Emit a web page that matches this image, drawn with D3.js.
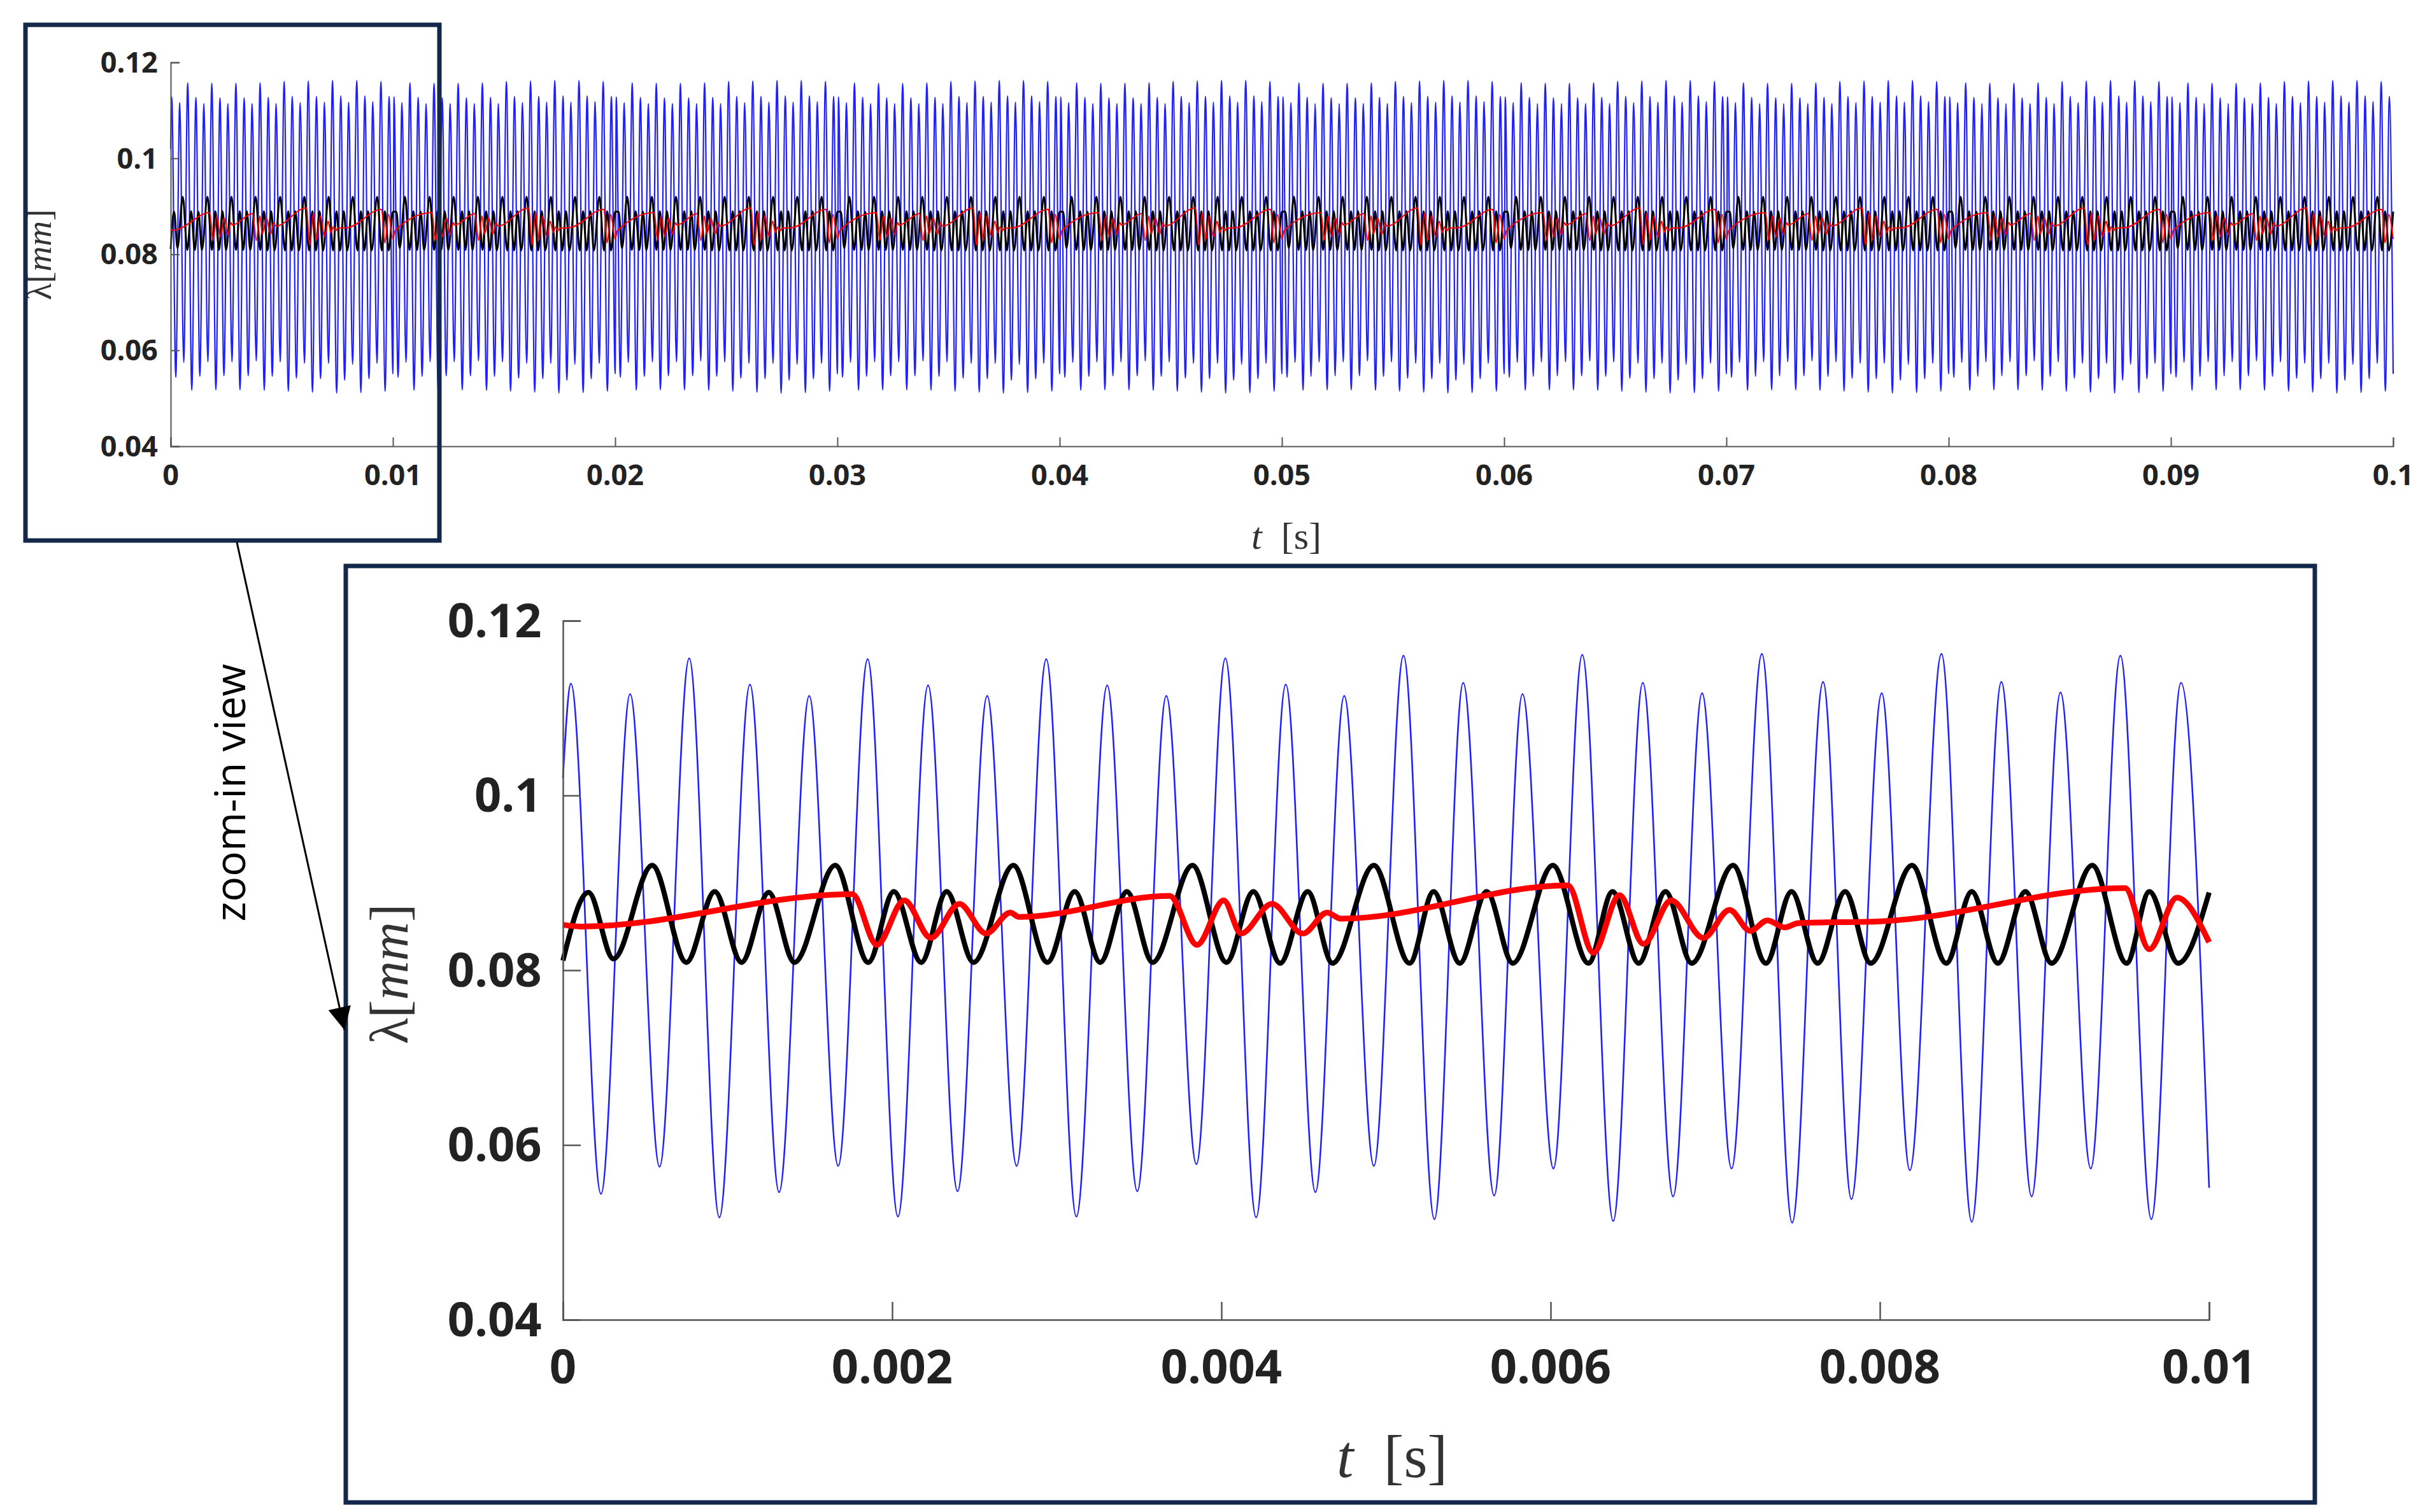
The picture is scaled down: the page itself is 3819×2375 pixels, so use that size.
<!DOCTYPE html>
<html>
<head>
<meta charset="utf-8">
<script src="https://cdn.jsdelivr.net/npm/d3@7"></script>
<style>
body { margin: 0; background: #fff; }
text { font-family: "Open Sans", Lato, sans-serif; }
text.serif { font-family: "Liberation Serif", "DejaVu Serif", serif; }
</style>
</head>
<body>
<script>
var blueT = [0,.0000484,.000231,.000408,.000587,.000767,.000950,.001136,.001313,.001496,.001672,.001851,.002035,.002218,.002397,.002577,.002756,.002936,.003119,.003306,.003489,.003665,.003848,.004024,
  .004211,.004391,.004571,.004746,.004926,.005106,.005294,.005469,.005657,.005829,.006017,.006192,.006380,.006560,.006744,.006920,.007099,.007283,.007467,.007655,.007827,.008011,.008182,.008374,.008558,.008738,.008922,.009097,.009281,.009461,.009649,.009829,.010];
var blueV = [.1020,.1128,.0544,.1116,.0575,.1157,.0517,.1127,.0546,.1114,.0576,.1156,.0518,.1126,.0547,.1114,.0576,.1156,.0518,.1126,.0547,.1114,.0578,.1157,
  .0517,.1127,.0546,.1114,.0576,.1160,.0515,.1129,.0542,.1116,.0573,.1161,.0513,.1129,.0541,.1117,.0573,.1162,.0511,.1130,.0538,.1117,.0571,.1162,.0512,.1130,.0541,.1118,.0573,.1160,.0515,.1129,.0551];
var blackT = [0,.000155,.000307,.000542,.000750,.000922,.001085,.001250,.001406,.001654,.001855,.002010,.002176,.002331,.002494,.002736,.002943,.003109,.003264,.003426,.003582,.003824,.004031,
  .004194,.004357,.004524,.004675,.004926,.005143,.005289,.005448,.005611,.005770,.006013,.006230,.006376,.006535,.006698,.006857,.007108,.007308,.007463,.007622,.007789,.007944,.008195,.008404,.008558,.008717,.008884,.009043,.009290,.009499,.009637,.009812,.010];
var blackV = [.0811,.0889,.0813,.0920,.0809,.0890,.0809,.0889,.0809,.0920,.0809,.0890,.0809,.0890,.0809,.0920,.0809,.0890,.0809,.0890,.0809,.0920,.0809,
  .0890,.0808,.0890,.0808,.0920,.0808,.0890,.0808,.0890,.0808,.0920,.0808,.0890,.0808,.0890,.0808,.0920,.0808,.0890,.0808,.0890,.0808,.0920,.0808,.0890,.0808,.0890,.0808,.0920,.0808,.0890,.0808,.0889];
var redT = [0,.000110,.001758,.001907,.002073,.002235,.002408,.002570,.002718,.002770,.003686,.003852,.004014,.004119,.004307,.004495,.004642,.004725,.006105,.006259,.006418,.006564,.006732,.006928,.007087,.007212,.007317,.007421,.007505,.008006,.009490,.009637,.009804,.010];
var redV = [.0852,.0850,.0887,.0829,.0880,.0837,.0876,.0842,.0866,.0861,.0885,.0829,.0880,.0842,.0876,.0842,.0866,.0859,.0897,.0820,.0886,.0830,.0880,.0837,.0869,.0845,.0857,.0849,.0854,.0856,.0894,.0824,.0883,.0832];

var yTicks = [0.04, 0.06, 0.08, 0.1, 0.12];
var xTicksTop = [0,0.01,0.02,0.03,0.04,0.05,0.06,0.07,0.08,0.09,0.1];
var xTicksZoom = [0,0.002,0.004,0.006,0.008,0.01];
var repeats = 10; // the full record repeats the 0.01 s window

var W = 3819, H = 2375;
var svg = d3.select("body").append("svg").attr("width", W).attr("height", H);

function pts(T, V, n) {
  var out = [];
  for (var k = 0; k < n; k++)
    T.forEach(function(t, i){ if (k > 0 && i == 0) return; out.push([t + k*0.01, V[i]]); });
  return out;
}

function panel(cfg) {
  var x = d3.scaleLinear().domain(cfg.xd).range([cfg.x0, cfg.x1]);
  var y = d3.scaleLinear().domain([0.04, 0.12]).range([cfg.y0, cfg.y1]);
  var g = svg.append("g");
  var line = d3.line().x(function(d){return x(d[0]);}).y(function(d){return y(d[1]);}).curve(d3.curveMonotoneX);
  var series = [[blueT, blueV, "#1f1fff", cfg.w[0]], [blackT, blackV, "#000", cfg.w[1]], [redT, redV, "#ff0000", cfg.w[2]]];
  series.forEach(function(s){
    g.append("path").datum(pts(s[0], s[1], cfg.n)).attr("d", line)
      .attr("fill", "none").attr("stroke", s[2]).attr("stroke-width", s[3]).attr("stroke-linejoin", "round");
  });
  var ax = g.append("g").attr("transform", "translate(0," + cfg.y0 + ")")
    .call(d3.axisTop(x).tickValues(cfg.xt).tickSize(cfg.tick).tickFormat(d3.format("~g")));
  ax.selectAll("text").remove();
  var ay = g.append("g").attr("transform", "translate(" + cfg.x0 + ",0)")
    .call(d3.axisRight(y).tickValues(yTicks).tickSize(cfg.tick).tickFormat(""));
  [ax, ay].forEach(function(a){
    a.select(".domain").attr("stroke", "#555").attr("stroke-width", cfg.aw);
    a.selectAll(".tick line").attr("stroke", "#555").attr("stroke-width", cfg.aw);
  });
  g.selectAll(".xl").data(cfg.xt).enter().append("text")
    .attr("x", function(d){return x(d);}).attr("y", cfg.y0 + cfg.fs*1.35)
    .attr("text-anchor", "middle").attr("font-size", cfg.fs).attr("font-weight", "bold").attr("fill", "#222")
    .text(d3.format("~g"));
  g.selectAll(".yl").data(yTicks).enter().append("text")
    .attr("x", cfg.x0 - cfg.fs*0.45).attr("y", function(d){return y(d) + cfg.fs*0.35;})
    .attr("text-anchor", "end").attr("font-size", cfg.fs).attr("font-weight", "bold").attr("fill", "#222")
    .text(d3.format("~g"));
  // axis labels
  var tl = g.append("text").attr("class", "serif").attr("x", cfg.tx[0]).attr("y", cfg.tx[1]).attr("text-anchor", "middle")
    .attr("font-size", cfg.lf).attr("fill", "#333");
  tl.append("tspan").attr("font-style", "italic").text("t");
  tl.append("tspan").text("\u2002[s]");
  var yl = g.append("text").attr("class", "serif").attr("transform", "translate(" + cfg.ty[0] + "," + cfg.ty[1] + ") rotate(-90)")
    .attr("text-anchor", "middle").attr("font-size", cfg.ly).attr("fill", "#333");
  yl.append("tspan").text("\u03bb[");
  yl.append("tspan").attr("font-style", "italic").text("mm");
  yl.append("tspan").text("]");
}

panel({xd: [0, 0.1], x0: 268, x1: 3758, y0: 701, y1: 98, n: repeats, xt: xTicksTop, w: [2.2, 3, 2],
  tick: 14, aw: 2, fs: 45, lf: 60, ly: 55, tx: [2020, 862], ty: [80, 400]});
panel({xd: [0, 0.01], x0: 884, x1: 3469, y0: 2073, y1: 975, n: 1, xt: xTicksZoom, w: [2.6, 8, 9],
  tick: 28, aw: 2.5, fs: 74, lf: 95, ly: 85, tx: [2186, 2320], ty: [640, 1530]});

// frames
svg.append("rect").attr("x", 40).attr("y", 39).attr("width", 650).attr("height", 810)
  .attr("fill", "none").attr("stroke", "#14284b").attr("stroke-width", 7);
svg.append("rect").attr("x", 543).attr("y", 889).attr("width", 3092).attr("height", 1471)
  .attr("fill", "none").attr("stroke", "#14284b").attr("stroke-width", 7);

// arrow
svg.append("defs").append("marker").attr("id", "ah").attr("viewBox", "0 0 10 10")
  .attr("refX", 10).attr("refY", 5).attr("markerWidth", 45).attr("markerHeight", 36)
  .attr("markerUnits", "userSpaceOnUse").attr("orient", "auto")
  .append("path").attr("d", "M0,0L10,5L0,10Z").attr("fill", "#000");
svg.append("line").attr("x1", 372).attr("y1", 852).attr("x2", 541).attr("y2", 1618)
  .attr("stroke", "#000").attr("stroke-width", 3).attr("marker-end", "url(#ah)");
svg.append("text").attr("transform", "translate(385,1245) rotate(-90)").attr("text-anchor", "middle")
  .attr("font-size", 66).attr("fill", "#000").text("zoom-in view");
</script>
</body>
</html>
